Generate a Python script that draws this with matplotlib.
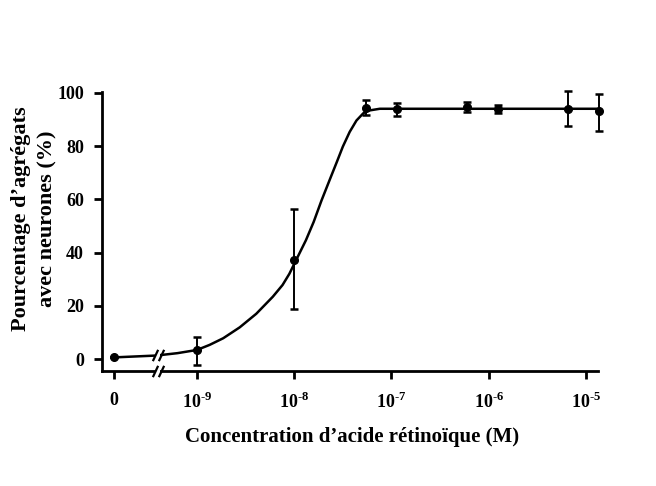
import numpy as np
import matplotlib
matplotlib.use("Agg")
import matplotlib.pyplot as plt
from matplotlib import transforms

plt.rcParams['font.family'] = ['Liberation Serif', 'DejaVu Serif']
plt.rcParams['font.weight'] = 'bold'
plt.rcParams['mathtext.fontset'] = 'custom'
plt.rcParams['mathtext.rm'] = 'Liberation Serif:bold'
plt.rcParams['mathtext.bf'] = 'Liberation Serif:bold'

# ---- data ----
control_pos = 1.39e-10          # where the "0" (control) column is drawn on the log axis
break_pos = 10 ** -9.40         # axis break location
conc = [0, 1e-9, 1e-8, 5.5e-8, 1.15e-7, 6.0e-7, 1.23e-6, 6.5e-6, 1.36e-5]
pct = [0.6, 3.4, 37.3, 94.2, 94.0, 94.7, 93.8, 94.0, 93.0]
err_lo = [0.0, 5.7, 18.5, 2.6, 2.9, 2.0, 1.5, 6.3, 7.5]
err_hi = [0.0, 4.9, 19.1, 3.2, 2.1, 2.0, 1.5, 6.5, 6.6]

ctrl_curve_logx = [-9.856, -9.42]
ctrl_curve_y = [0.6, 1.3]
curve_logx = [-9.37, -9.20, -9.0, -8.87, -8.73, -8.56, -8.39, -8.22, -8.12, -8.05, -7.98,
              -7.88, -7.80, -7.72, -7.63, -7.56, -7.50, -7.43, -7.36, -7.29, -7.24,
              -7.12, -4.866]
curve_y = [1.5, 2.2, 3.4, 5.3, 7.8, 11.9, 17.0, 23.4, 27.8, 32.0, 37.2,
           44.6, 51.5, 59.5, 67.8, 74.2, 79.8, 85.3, 89.6, 92.3, 93.3,
           94.0, 94.0]

xtick_vals = [0, 1e-9, 1e-8, 1e-7, 1e-6, 1e-5]
xtick_labels = ['0', r'$10^{\text{-9}}$', r'$10^{\text{-8}}$', r'$10^{\text{-7}}$',
                r'$10^{\text{-6}}$', r'$10^{\text{-5}}$']
ytick_vals = [0, 20, 40, 60, 80, 100]

# ---- figure ----
fig = plt.figure(figsize=(6.56, 4.86), dpi=100)
ax = fig.add_axes([0.1555, 0.2372, 0.9116 - 0.1555, 0.8107 - 0.2372])
ax.set_xscale('log')
ax.set_xlim(10 ** -9.976, 10 ** -4.877)
ax.set_ylim(-4.4, 100.3)

xplot = [control_pos if c == 0 else c for c in conc]
lw = 1.8
ax.plot([10 ** v for v in ctrl_curve_logx], ctrl_curve_y, color='black', lw=lw,
        solid_capstyle='butt')
ax.plot([10 ** v for v in curve_logx], curve_y, color='black', lw=lw, clip_on=False,
        solid_joinstyle='round')
ax.errorbar(xplot, pct, yerr=[err_lo, err_hi], fmt='o', color='black', ms=5.5,
            elinewidth=1.4, capsize=3, capthick=1.8, clip_on=False, zorder=5)

for s in ['top', 'right']:
    ax.spines[s].set_visible(False)
for s in ['left', 'bottom']:
    ax.spines[s].set_linewidth(2.0)

ax.set_xticks([control_pos if v == 0 else v for v in xtick_vals])
ax.set_xticklabels(xtick_labels)
ax.xaxis.set_minor_locator(matplotlib.ticker.NullLocator())
ax.set_yticks(ytick_vals)
ax.tick_params(axis='both', which='major', length=6, width=2, labelsize=13)
ax.tick_params(axis='x', pad=9)
ax.tick_params(axis='y', pad=7)

# axis break marks "//" on the x axis and on the curve
xa = ax.get_xaxis_transform()
for yv, trans in [(0, xa), (1.35, ax.transData)]:
    ax.plot([break_pos], [yv], transform=trans, marker='s', ms=3.2, mew=0,
            color='white', clip_on=False, zorder=5.5)
    for dx in (-2.0, 2.0):
        off = transforms.ScaledTranslation(dx / 72, 0, fig.dpi_scale_trans)
        ax.plot([break_pos], [yv], transform=trans + off, marker=(2, 0, -25),
                ms=9, mew=1.6, color='black', clip_on=False, zorder=6)

fig.text(0.0525, 0.549, 'Pourcentage d\u2019agrégats\navec neurones (%)', rotation=90,
         ha='center', va='center', multialignment='center', fontsize=16,
         fontweight='bold', linespacing=1.4)
fig.text(0.537, 0.101, 'Concentration d\u2019acide rétinoïque (M)', ha='center',
         va='center', fontsize=15, fontweight='bold')

fig.savefig('out.png', dpi=100)
